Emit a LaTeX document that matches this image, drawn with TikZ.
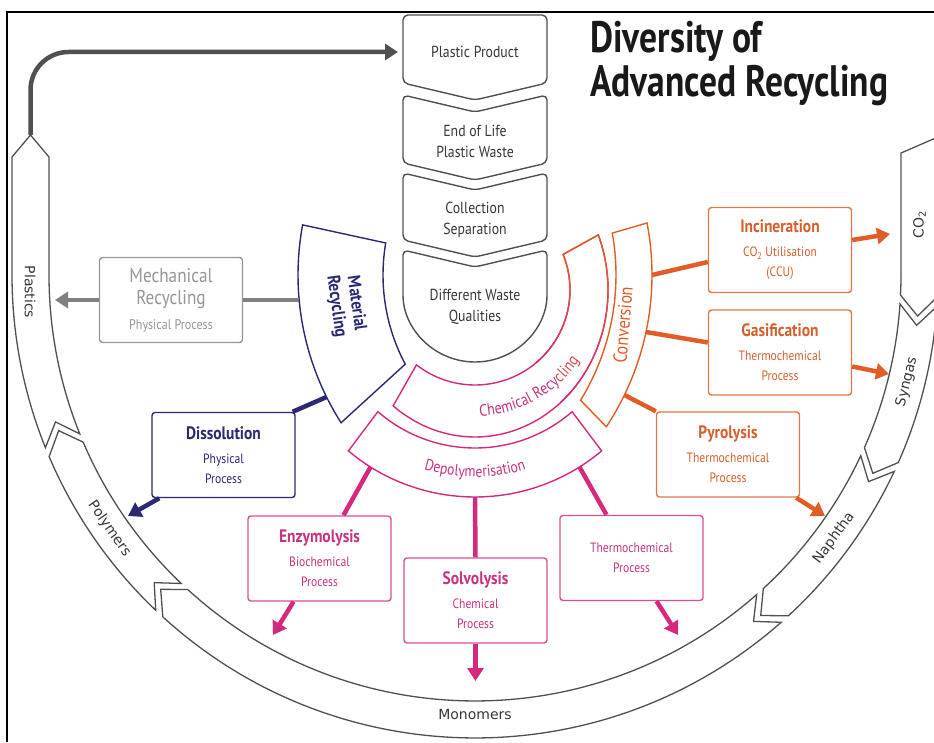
\documentclass[tikz,border=0pt]{standalone}
\usepackage{fontspec}
\setmainfont{PT Sans}[FakeStretch=0.86]
\newfontfamily\ringfont{DejaVu Sans}
\usetikzlibrary{arrows.meta,decorations.text}
\definecolor{navyc}{RGB}{43,41,115}
\definecolor{pinkc}{RGB}{214,41,125}
\definecolor{pinkb}{RGB}{216,80,150}
\definecolor{pinkt}{RGB}{200,50,130}
\definecolor{orangec}{RGB}{226,92,38}
\definecolor{orangeb}{RGB}{226,120,70}
\definecolor{oranget}{RGB}{214,95,45}
\definecolor{mechc}{RGB}{150,150,150}
\definecolor{arrgray}{RGB}{128,128,128}
\definecolor{darkg}{RGB}{80,80,80}
\definecolor{ringc}{RGB}{80,80,80}
\definecolor{textg}{RGB}{55,55,55}
\definecolor{titlec}{RGB}{25,25,25}
\newcommand{\boxttl}[1]{{\fontsize{18}{20}\selectfont\bfseries #1}}
\tikzset{
  colbox/.style={draw=darkg, line width=1.4pt, rounded corners=5pt, fill=white},
  coltext/.style={text=textg, font=\fontsize{16}{21}\selectfont, align=center},
  ring/.style={draw=ringc, line width=1.3pt, fill=white},
  ringlbl/.style={text=textg, font=\ringfont\fontsize{14}{14}\selectfont},
  procbox/.style={draw, line width=1.4pt, rounded corners=3pt, minimum width=143pt, minimum height=85pt, align=center, inner sep=1pt, font=\fontsize{13.5}{20}\selectfont, fill=white},
  conn/.style={line width=4.5pt},
  arr/.style={line width=4.5pt, -{Triangle[length=13pt,width=16pt]}},
  band/.style={line width=1.4pt, fill=white},
}
\begin{document}
\begin{tikzpicture}[x=1pt,y=1pt]
\useasboundingbox (0,0) rectangle (934,742);
\clip (0,0) rectangle (934,742);

% frame
\draw[line width=2.4pt] (934,730) -- (7,730) -- (7,0);

% outer ring
\begin{scope}[shift={(475,467)}]
  \draw[ring] (180:463) -- ++(0,118) -- ++(18.5,22) -- ++(18.5,-22) -- (180:426)
     arc[start angle=180,end angle=201.9,radius=426] -- (199.3:444.5) -- (201.9:463)
     arc[start angle=201.9,end angle=180,radius=463] -- cycle;
  \draw[ring] (203.1:426) -- (200.5:444.5) -- (203.1:463)
     arc[start angle=203.1,end angle=226.4,radius=463] -- (223.8:444.5) -- (226.4:426)
     arc[start angle=226.4,end angle=203.1,radius=426] -- cycle;
  \draw[ring] (227.6:426) -- (225.0:444.5) -- (227.6:463)
     arc[start angle=227.6,end angle=311.4,radius=463] -- (308.8:444.5) -- (311.4:426)
     arc[start angle=311.4,end angle=227.6,radius=426] -- cycle;
  \draw[ring] (312.6:426) -- (310.0:444.5) -- (312.6:463)
     arc[start angle=312.6,end angle=334.9,radius=463] -- (332.3:444.5) -- (334.9:426)
     arc[start angle=334.9,end angle=312.6,radius=426] -- cycle;
  \draw[ring] (336.1:426) -- (333.5:444.5) -- (336.1:463)
     arc[start angle=336.1,end angle=356.1,radius=463] -- (353.5:444.5) -- (356.1:426)
     arc[start angle=356.1,end angle=336.1,radius=426] -- cycle;
  \draw[ring] (357.3:426) -- (354.7:444.5) -- (357.3:463)
     arc[start angle=357.3,end angle=360,radius=463] -- ++(0,138) -- (426,122) -- (426,0)
     arc[start angle=360,end angle=357.3,radius=426] -- cycle;
  \coordinate (plTop) at (-444.5,140);
  \node[ringlbl, rotate=-90] (lPl) at (-445,-17) {Plastics};
  \node[ringlbl, rotate=-55.25] (lPo) at (214.75:445) {Polymers};
  \node[ringlbl] (lMo) at (270:439) {Monomers};
  \node[ringlbl, rotate=53.75] (lNa) at (323.75:445) {Naphtha};
  \node[ringlbl, rotate=76.1] (lSy) at (346.1:445) {Syngas};
  \node[ringlbl, rotate=90] (lCO) at (444.5,50) {CO\textsubscript{2}};
\end{scope}

% title
\node[anchor=base west, inner sep=0, text=titlec] (t1) at (590,689)
  {\resizebox{172pt}{\height}{\fontsize{44}{44}\selectfont\bfseries Diversity of}};
\node[anchor=base west, inner sep=0, text=titlec] (t2) at (590,645)
  {\resizebox{298pt}{\height}{\fontsize{44}{44}\selectfont\bfseries Advanced Recycling}};

% central column
\draw[colbox] (403,659) -- (403,727) -- (547,727) -- (547,659) -- (475,642) -- cycle;
\draw[colbox] (403,647) -- (475,630) -- (547,647) -- (547,579) -- (475,562) -- (403,579) -- cycle;
\draw[colbox] (403,569) -- (475,552) -- (547,569) -- (547,502) -- (475,485) -- (403,502) -- cycle;
\draw[colbox] (403,492) -- (475,475) -- (547,492) -- (547,452) arc[start angle=0,end angle=-180,radius=72] -- cycle;
\node[coltext] (pp) at (475,690) {Plastic Product};
\node[coltext] (eol) at (475,601) {End of Life\\Plastic Waste};
\node[coltext] (cs) at (475,522) {Collection\\Separation};
\node[coltext] (dw) at (475,435) {Different Waste\\Qualities};
\coordinate (ppL) at (398,690);

% Material recycling band
\begin{scope}[shift={(573,467)}]
  \draw[band, draw=navyc] (170.3:190) arc[start angle=170.3,end angle=208,radius=190]
     -- (212.5:275) arc[start angle=212.5,end angle=169.5,radius=275] -- cycle;
  \coordinate (matG) at (-273.9,-25);
  \coordinate (matD) at (-246.5,-122);
\end{scope}
\node[rotate=-82, text=navyc, font=\fontsize{18}{20}\selectfont\bfseries, align=center] (matT) at (346,437) {Material\\Recycling};

% Conversion band
\begin{scope}[shift={(377,467)}]
  \draw[band, draw=orangec] (10.1:239) arc[start angle=10.1,end angle=-31.6,radius=239]
     -- (-33.5:275) arc[start angle=-33.5,end angle=10.9,radius=275] -- cycle;
  \coordinate (conI) at (275,0);
  \coordinate (conG) at (269,-57);
  \coordinate (conP) at (247.4,-120);
\end{scope}
\node[rotate=85, text=orangec, font=\fontsize{19}{19}\selectfont] (convT) at (623,417) {Conversion};

% Chemical recycling band
\begin{scope}[shift={(475,452)}]
  \draw[band, draw=pinkc] (232:95) arc[start angle=232,end angle=382,radius=95]
     -- (382:133 and 147) arc[start angle=382,end angle=232,x radius=133,y radius=147] -- cycle;
  \foreach \a in {-50,-46,...,18} {
    \pgfmathtruncatemacro\p{min(100,max(0,(\a+50)*100/60))}
    \draw[orangec!\p!pinkc, line width=1.4pt, line cap=round] (\a:95) arc[start angle=\a,end angle=\a+4,radius=95];
    \draw[orangec!\p!pinkc, line width=1.4pt, line cap=round] (\a:133 and 147) arc[start angle=\a,end angle=\a+4,x radius=133,y radius=147];
  }
  \draw[orangec, line width=1.4pt, line cap=round] (22:95) -- (22:133 and 147);
  \path[decorate, decoration={text along path, text align=center,
     text={|\fontsize{16.5}{16}\selectfont\color{pinkt}|Chemical Recy|\fontsize{16.5}{16}\selectfont\color{orangec!60!pinkt}|cling}}]
     (-104:126) arc[start angle=-104,end angle=-18,radius=126];
\end{scope}

% Depolymerisation band
\begin{scope}[shift={(475,442)}]
  \draw[band, draw=pinkc] (229:148) arc[start angle=229,end angle=311,radius=148]
     -- (310:197) arc[start angle=310,end angle=230,radius=197] -- cycle;
  \path[decorate, decoration={text along path, text align=center,
     text={|\fontsize{16}{16}\selectfont\color{pinkt}|Depolymerisation}}]
     (240:177) arc[start angle=240,end angle=300,radius=177];
  \coordinate (depE) at (-104.5,-167);
  \coordinate (depS) at (0,-197);
  \coordinate (depT) at (104.5,-167);
\end{scope}

% process boxes
\node[procbox, draw=mechc, text=mechc, font=\fontsize{14}{22}\selectfont] (mech) at (171,442)
  {{\fontsize{20}{22}\selectfont Mechanical}\\{\fontsize{20}{22}\selectfont Recycling}\\[3pt]Physical Process};
\node[procbox, draw=navyc, text=navyc] (diss) at (223.5,287) {\boxttl{Dissolution}\\[4pt]Physical\\Process};
\node[procbox, draw=pinkb, text=pinkt] (enzy) at (319.5,183.5) {\boxttl{Enzymolysis}\\[4pt]Biochemical\\Process};
\node[procbox, draw=pinkb, text=pinkt] (solv) at (475.5,141.5) {\boxttl{Solvolysis}\\[4pt]Chemical\\Process};
\node[procbox, draw=pinkb, text=pinkt] (thermo) at (631.5,184) {Thermochemical\\Process};
\node[procbox, draw=orangeb, text=oranget] (pyro) at (728,287.5) {\boxttl{Pyrolysis}\\[4pt]Thermochemical\\Process};
\node[procbox, draw=orangeb, text=oranget] (inc) at (780,492) {\boxttl{Incineration}\\[4pt]CO\textsubscript{2} Utilisation\\(CCU)};
\node[procbox, draw=orangeb, text=oranget] (gas) at (780,389.5) {\boxttl{Gasification}\\[4pt]Thermochemical\\Process};

% arrow tip points
\coordinate (mechTip) at (55,442);
\coordinate (dissTip) at (128,226);
\coordinate (enzyTip) at (273,107);
\coordinate (solvTip) at (475.5,61);
\coordinate (thermoTip) at (678,107);
\coordinate (pyroTip) at (825,226);
\coordinate (incTip) at (890,508);
\coordinate (gasTip) at (889,368);

% connectors
\draw[arr, draw=darkg, rounded corners=38pt] (plTop) |- (ppL);
\draw[conn, draw=arrgray] (matG) -- (mech.east);
\draw[arr, draw=arrgray] (mech.west) -- (mechTip);
\draw[conn, draw=navyc] (matD) -- ([xshift=-3pt]diss.north east);
\draw[arr, draw=navyc] ([xshift=8pt]diss.south west) -- (dissTip);
\draw[conn, draw=pinkc] (depE) -- ([xshift=24pt]enzy.north);
\draw[conn, draw=pinkc] (depS) -- (solv.north);
\draw[conn, draw=pinkc] (depT) -- ([xshift=-25pt]thermo.north);
\draw[arr, draw=pinkc] ([xshift=-26pt]enzy.south) -- (enzyTip);
\draw[arr, draw=pinkc] (solv.south) -- (solvTip);
\draw[arr, draw=pinkc] ([xshift=25pt]thermo.south) -- (thermoTip);
\draw[conn, draw=orangec] (conP) -- (pyro.north west);
\draw[conn, draw=orangec] (conI) -- ([yshift=-12pt]inc.west);
\draw[conn, draw=orangec] (conG) -- ([yshift=10pt]gas.west);
\draw[arr, draw=orangec] ([xshift=-4pt]pyro.south east) -- (pyroTip);
\draw[arr, draw=orangec] ([yshift=10pt]inc.east) -- (incTip);
\draw[arr, draw=orangec] ([yshift=-14pt]gas.east) -- (gasTip);
\end{tikzpicture}
\end{document}
